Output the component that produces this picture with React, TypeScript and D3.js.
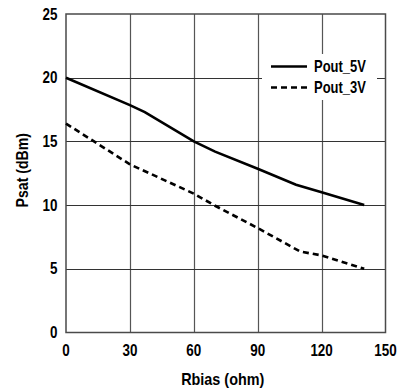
import React, { useRef, useEffect } from "react";
import * as d3 from "d3";

// Rbias (ohm) vs Psat (dBm)
const rbias5V = [0, 30, 37, 60, 70, 90, 108, 120, 140];
const pout5V = [20, 17.85, 17.3, 15, 14.2, 12.85, 11.6, 11.0, 10.0];
const rbias3V = [0, 30, 60, 70, 90, 110, 120, 140];
const pout3V = [16.4, 13.2, 10.9, 9.95, 8.2, 6.35, 6.05, 5.0];
const xTicks = [0, 30, 60, 90, 120, 150];
const yTicks = [0, 5, 10, 15, 20, 25];
const seriesNames = ["Pout_5V", "Pout_3V"];

const FONT = "'Liberation Sans', Arial, sans-serif";

export default function App() {
  const ref = useRef<SVGSVGElement | null>(null);

  useEffect(() => {
    if (!ref.current) return;
    const svg = d3.select(ref.current);
    svg.selectAll("*").remove();

    // plot box in page pixels
    const left = 66, right = 385.5, top = 14, bottom = 332.5;

    const x = d3.scaleLinear().domain([0, 150]).range([left, right]);
    const y = d3.scaleLinear().domain([0, 25]).range([bottom, top]);

    const g = svg.append("g");

    // condensed bold text: squeeze Liberation Sans horizontally
    const label = (
      tx: number,
      ty: number,
      txt: string,
      anchor: string,
      sx = 0.84,
      rot = 0
    ) => {
      g.append("g")
        .attr("transform", `translate(${tx},${ty}) rotate(${rot}) scale(${sx},1)`)
        .append("text")
        .attr("text-anchor", anchor)
        .attr("font-family", FONT)
        .attr("font-weight", "bold")
        .attr("font-size", 16)
        .attr("fill", "#000")
        .text(txt);
    };

    // grid
    g.selectAll("line.vg")
      .data(xTicks.slice(1, -1))
      .enter()
      .append("line")
      .attr("x1", (d) => Math.round(x(d)) + 0.5)
      .attr("x2", (d) => Math.round(x(d)) + 0.5)
      .attr("y1", top)
      .attr("y2", bottom)
      .attr("stroke", "#555")
      .attr("stroke-width", 1.2);

    g.selectAll("line.hg")
      .data(yTicks.slice(1, -1))
      .enter()
      .append("line")
      .attr("y1", (d) => Math.round(y(d)) + 0.5)
      .attr("y2", (d) => Math.round(y(d)) + 0.5)
      .attr("x1", left)
      .attr("x2", right)
      .attr("stroke", "#333")
      .attr("stroke-width", 1.1);

    // frame
    g.append("rect")
      .attr("x", left)
      .attr("y", top)
      .attr("width", right - left)
      .attr("height", bottom - top)
      .attr("fill", "none")
      .attr("stroke", "#4a4a4a")
      .attr("stroke-width", 1.5);

    // tick labels
    xTicks.forEach((t) => label(x(t), 356, String(t), "middle"));
    yTicks.forEach((t) => label(left - 8.5, y(t) + 5.5, String(t), "end"));

    // axis titles
    label((left + right) / 2 - 3, 385, "Rbias (ohm)", "middle", 0.9);
    label(28, (top + bottom) / 2 - 3, "Psat (dBm)", "middle", 0.88, -90);

    // curves
    const line = d3
      .line<[number, number]>()
      .x((d) => x(d[0]))
      .y((d) => y(d[1]));

    const d5 = rbias5V.map((r, i) => [r, pout5V[i]] as [number, number]);
    const d3v = rbias3V.map((r, i) => [r, pout3V[i]] as [number, number]);

    g.append("path")
      .datum(d5)
      .attr("d", line)
      .attr("fill", "none")
      .attr("stroke", "#000")
      .attr("stroke-width", 2.6);

    g.append("path")
      .datum(d3v)
      .attr("d", line)
      .attr("fill", "none")
      .attr("stroke", "#000")
      .attr("stroke-width", 2.6)
      .attr("stroke-dasharray", "6,4");

    // legend (white box covers grid)
    g.append("rect")
      .attr("x", 262)
      .attr("y", 54)
      .attr("width", 115)
      .attr("height", 46)
      .attr("fill", "#fff");

    seriesNames.forEach((name, i) => {
      const ly = 66.5 + i * 21;
      g.append("line")
        .attr("x1", 271)
        .attr("x2", 307)
        .attr("y1", ly)
        .attr("y2", ly)
        .attr("stroke", "#000")
        .attr("stroke-width", 2.6)
        .attr("stroke-dasharray", i === 1 ? "6,4" : null);
      label(314, ly + 5.5, name, "start", 0.81);
    });
  }, []);

  return (
    <svg
      ref={ref}
      width={398}
      height={390}
      style={{ position: "absolute", left: 0, top: 0, background: "#fff" }}
    />
  );
}
